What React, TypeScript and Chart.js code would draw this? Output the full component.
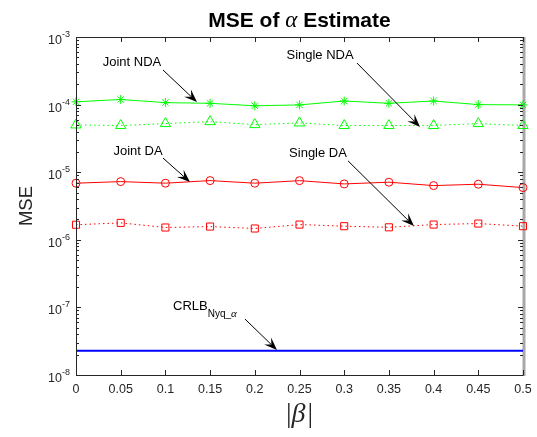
import React, { useEffect, useRef } from "react";
import { Chart, registerables } from "chart.js";

Chart.register(...registerables);

// ---- data ----
const betaValues = [0, 0.05, 0.1, 0.15, 0.2, 0.25, 0.3, 0.35, 0.4, 0.45, 0.5];
const jointNDA = [1.1e-4, 1.19e-4, 1.07e-4, 1.045e-4, 0.96e-4, 0.99e-4, 1.13e-4, 1.045e-4, 1.13e-4, 1.0e-4, 0.99e-4];
const singleNDA = [5.0e-5, 4.9e-5, 5.24e-5, 5.6e-5, 5.06e-5, 5.36e-5, 4.9e-5, 4.9e-5, 4.9e-5, 5.24e-5, 4.9e-5];
const jointDA = [6.88e-6, 7.26e-6, 6.88e-6, 7.51e-6, 6.88e-6, 7.5e-6, 6.71e-6, 7.11e-6, 6.34e-6, 6.64e-6, 5.92e-6];
const singleDA = [1.67e-6, 1.78e-6, 1.52e-6, 1.57e-6, 1.47e-6, 1.68e-6, 1.59e-6, 1.53e-6, 1.68e-6, 1.74e-6, 1.59e-6];
const crlbValue = 2.29e-8;
const crlb = betaValues.map(() => crlbValue);

const xTickValues = [0, 0.05, 0.1, 0.15, 0.2, 0.25, 0.3, 0.35, 0.4, 0.45, 0.5];
const xTickLabels = ["0", "0.05", "0.1", "0.15", "0.2", "0.25", "0.3", "0.35", "0.4", "0.45", "0.5"];
const yDecades = [-8, -7, -6, -5, -4, -3];

// annotations in data coordinates: text centre, arrow start, arrow tip
const annotations = [
  { label: "Joint NDA", tx: 0.0626, ty: 4.26e-4, sx: 0.0973, sy: 3.25e-4, ex: 0.1353, ey: 1.09e-4 },
  { label: "Single NDA", tx: 0.273, ty: 5.42e-4, sx: 0.3143, sy: 4.12e-4, ex: 0.3848, ey: 4.67e-5 },
  { label: "Joint DA", tx: 0.0694, ty: 2.06e-5, sx: 0.0973, sy: 1.62e-5, ex: 0.1275, ey: 7.16e-6 },
  { label: "Single DA", tx: 0.2707, ty: 1.92e-5, sx: 0.3043, sy: 1.47e-5, ex: 0.378, ey: 1.6e-6 },
];
const crlbNote = { tx: 0.1085, ty: 1.05e-7, sx: 0.189, sy: 6.73e-8, ex: 0.2248, ey: 2.34e-8 };

const AXIS = "#262626";
const SANS = '"Liberation Sans", Arial, sans-serif';
const SERIF = '"Liberation Serif", "Times New Roman", serif';

function toPoints(values: number[]) {
  return betaValues.map((b, i) => ({ x: b, y: values[i] }));
}

function drawArrow(ctx: CanvasRenderingContext2D, sx: number, sy: number, ex: number, ey: number) {
  const dx = ex - sx;
  const dy = ey - sy;
  const len = Math.hypot(dx, dy);
  const ux = dx / len;
  const uy = dy / len;
  const nx = -uy;
  const ny = ux;
  const L = 13;
  const W = 10;
  const notchX = ex - ux * L * 0.6;
  const notchY = ey - uy * L * 0.6;
  ctx.save();
  ctx.strokeStyle = "#000";
  ctx.lineWidth = 1;
  ctx.beginPath();
  ctx.moveTo(sx, sy);
  ctx.lineTo(notchX, notchY);
  ctx.stroke();
  ctx.fillStyle = "#000";
  ctx.beginPath();
  ctx.moveTo(ex, ey);
  ctx.lineTo(ex - ux * L + nx * W / 2, ey - uy * L + ny * W / 2);
  ctx.lineTo(notchX, notchY);
  ctx.lineTo(ex - ux * L - nx * W / 2, ey - uy * L - ny * W / 2);
  ctx.closePath();
  ctx.fill();
  ctx.restore();
}

const matlabAxes = {
  id: "matlabAxes",
  beforeDatasetsDraw(chart: any) {
    const { ctx, chartArea } = chart;
    const { right, top, bottom } = chartArea;
    ctx.save();
    ctx.fillStyle = "#a8a8a8";
    ctx.fillRect(right - 0.5, top, 3, bottom - top + 1);
    ctx.restore();
  },
  afterDatasetsDraw(chart: any) {
    const { ctx, chartArea, scales } = chart;
    const { left, right, top, bottom } = chartArea;
    const xs = scales.x;
    const ys = scales.y;
    ctx.save();
    ctx.strokeStyle = AXIS;
    ctx.lineWidth = 1;
    // box
    ctx.beginPath();
    ctx.moveTo(left + 0.5, top + 0.5);
    ctx.lineTo(right + 0.5, top + 0.5);
    ctx.moveTo(left + 0.5, top + 0.5);
    ctx.lineTo(left + 0.5, bottom + 0.5);
    ctx.lineTo(right + 0.5, bottom + 0.5);
    ctx.stroke();

    // x ticks
    ctx.beginPath();
    xTickValues.forEach((v) => {
      const px = Math.round(xs.getPixelForValue(v)) + 0.5;
      ctx.moveTo(px, bottom);
      ctx.lineTo(px, bottom - 5);
      ctx.moveTo(px, top);
      ctx.lineTo(px, top + 5);
    });
    // y major and minor ticks
    yDecades.forEach((d) => {
      const py = Math.round(ys.getPixelForValue(Math.pow(10, d))) + 0.5;
      ctx.moveTo(left, py);
      ctx.lineTo(left + 5, py);
      ctx.moveTo(right, py);
      ctx.lineTo(right - 5, py);
      if (d < -3) {
        for (let m = 2; m <= 9; m++) {
          const my = Math.round(ys.getPixelForValue(m * Math.pow(10, d))) + 0.5;
          ctx.moveTo(left, my);
          ctx.lineTo(left + 3, my);
          ctx.moveTo(right, my);
          ctx.lineTo(right - 3, my);
        }
      }
    });
    ctx.stroke();

    // x tick labels
    ctx.fillStyle = AXIS;
    ctx.font = `12.5px ${SANS}`;
    ctx.textAlign = "center";
    ctx.textBaseline = "middle";
    xTickValues.forEach((v, i) => {
      ctx.fillText(xTickLabels[i], xs.getPixelForValue(v), bottom + 15);
    });

    // y tick labels 10^d
    yDecades.forEach((d) => {
      const py = ys.getPixelForValue(Math.pow(10, d));
      const sup = String(d);
      ctx.textAlign = "right";
      ctx.textBaseline = "middle";
      ctx.font = `9px ${SANS}`;
      const supW = ctx.measureText(sup).width;
      ctx.fillText(sup, left - 6, py - 2.5);
      ctx.font = `12.5px ${SANS}`;
      ctx.fillText("10", left - 6 - supW, py + 3.5);
    });

    // y axis title
    ctx.save();
    ctx.translate(27, (top + bottom) / 2);
    ctx.rotate(-Math.PI / 2);
    ctx.textAlign = "center";
    ctx.textBaseline = "middle";
    ctx.font = `18.5px ${SANS}`;
    ctx.fillText("MSE", 0, 0);
    ctx.restore();

    // x axis title |β|
    {
      const cx = (left + right) / 2;
      const base = 422;
      ctx.textBaseline = "alphabetic";
      ctx.textAlign = "left";
      ctx.font = `28px ${SERIF}`;
      const barW = ctx.measureText("|").width;
      ctx.font = `italic 28px ${SERIF}`;
      const betaW = ctx.measureText("β").width;
      const total = barW * 2 + betaW + 2;
      let x0 = cx - total / 2;
      ctx.font = `28px ${SERIF}`;
      ctx.fillText("|", x0, base);
      x0 += barW;
      ctx.font = `italic 28px ${SERIF}`;
      ctx.fillText("β", x0, base);
      x0 += betaW + 2;
      ctx.font = `28px ${SERIF}`;
      ctx.fillText("|", x0, base);
    }

    // title
    {
      const cx = (left + right) / 2;
      const base = 27;
      ctx.fillStyle = "#000";
      ctx.textBaseline = "alphabetic";
      ctx.textAlign = "left";
      const p1 = "MSE of ";
      const p2 = "α";
      const p3 = " Estimate";
      ctx.font = `bold 21px ${SANS}`;
      const w1 = ctx.measureText(p1).width;
      const w3 = ctx.measureText(p3).width;
      ctx.font = `italic 23px ${SERIF}`;
      const w2 = ctx.measureText(p2).width;
      let x0 = cx - (w1 + w2 + w3) / 2;
      ctx.font = `bold 21px ${SANS}`;
      ctx.fillText(p1, x0, base);
      x0 += w1;
      ctx.font = `italic 23px ${SERIF}`;
      ctx.fillText(p2, x0, base);
      x0 += w2;
      ctx.font = `bold 21px ${SANS}`;
      ctx.fillText(p3, x0, base);
    }

    // annotations
    ctx.fillStyle = "#000";
    annotations.forEach((a) => {
      ctx.font = `13px ${SANS}`;
      ctx.textAlign = "center";
      ctx.textBaseline = "middle";
      ctx.fillText(a.label, xs.getPixelForValue(a.tx), ys.getPixelForValue(a.ty));
      drawArrow(
        ctx,
        xs.getPixelForValue(a.sx),
        ys.getPixelForValue(a.sy),
        xs.getPixelForValue(a.ex),
        ys.getPixelForValue(a.ey)
      );
    });
    {
      const tx = xs.getPixelForValue(crlbNote.tx);
      const ty = ys.getPixelForValue(crlbNote.ty);
      ctx.textAlign = "left";
      ctx.textBaseline = "middle";
      ctx.font = `13px ${SANS}`;
      ctx.fillText("CRLB", tx, ty);
      let x0 = tx + ctx.measureText("CRLB").width;
      ctx.font = `10px ${SANS}`;
      ctx.fillText("Nyq_", x0, ty + 8);
      x0 += ctx.measureText("Nyq_").width;
      ctx.font = `italic 11px ${SERIF}`;
      ctx.fillText("α", x0, ty + 8);
      drawArrow(
        ctx,
        xs.getPixelForValue(crlbNote.sx),
        ys.getPixelForValue(crlbNote.sy),
        xs.getPixelForValue(crlbNote.ex),
        ys.getPixelForValue(crlbNote.ey)
      );
    }
    ctx.restore();
  },
};

export default function App() {
  const canvasRef = useRef<HTMLCanvasElement | null>(null);

  useEffect(() => {
    if (!canvasRef.current) return;
    const GREEN = "#00ff00";
    const RED = "#ff0000";
    const BLUE = "#0000ff";
    const chart = new Chart(canvasRef.current, {
      type: "line",
      data: {
        datasets: [
          {
            label: "Joint NDA",
            data: toPoints(jointNDA),
            borderColor: GREEN,
            borderWidth: 1,
            pointStyle: "star",
            pointRadius: 4.5,
            pointBorderColor: GREEN,
            pointBorderWidth: 1,
            pointBackgroundColor: "rgba(0,0,0,0)",
            tension: 0,
            clip: false,
          },
          {
            label: "Single NDA",
            data: toPoints(singleNDA),
            borderColor: GREEN,
            borderWidth: 1,
            borderDash: [1.5, 3],
            pointStyle: "triangle",
            pointRadius: 6,
            pointBorderColor: GREEN,
            pointBorderWidth: 1,
            pointBackgroundColor: "rgba(0,0,0,0)",
            tension: 0,
            clip: false,
          },
          {
            label: "Joint DA",
            data: toPoints(jointDA),
            borderColor: RED,
            borderWidth: 1,
            pointStyle: "circle",
            pointRadius: 4,
            pointBorderColor: RED,
            pointBorderWidth: 1,
            pointBackgroundColor: "rgba(0,0,0,0)",
            tension: 0,
            clip: false,
          },
          {
            label: "Single DA",
            data: toPoints(singleDA),
            borderColor: RED,
            borderWidth: 1,
            borderDash: [1.5, 3],
            pointStyle: "rect",
            pointRadius: 5,
            pointBorderColor: RED,
            pointBorderWidth: 1,
            pointBackgroundColor: "rgba(0,0,0,0)",
            tension: 0,
            clip: false,
          },
          {
            label: "CRLB",
            data: toPoints(crlb),
            borderColor: BLUE,
            borderWidth: 2,
            pointRadius: 0,
            tension: 0,
            clip: false,
          },
        ],
      },
      options: {
        animation: false,
        responsive: false,
        devicePixelRatio: 1,
        layout: { padding: { left: 76, top: 37, right: 14, bottom: 62 } },
        plugins: {
          legend: { display: false },
          title: { display: false },
          tooltip: { enabled: false },
        },
        scales: {
          x: { type: "linear", min: 0, max: 0.5, display: false },
          y: { type: "logarithmic", min: 1e-8, max: 1e-3, display: false },
        },
      },
      plugins: [matlabAxes],
    });
    return () => chart.destroy();
  }, []);

  return (
    <div style={{ position: "fixed", left: 0, top: 0, width: 537, height: 437, background: "#fff" }}>
      <canvas ref={canvasRef} width={537} height={437} style={{ display: "block" }} />
    </div>
  );
}
